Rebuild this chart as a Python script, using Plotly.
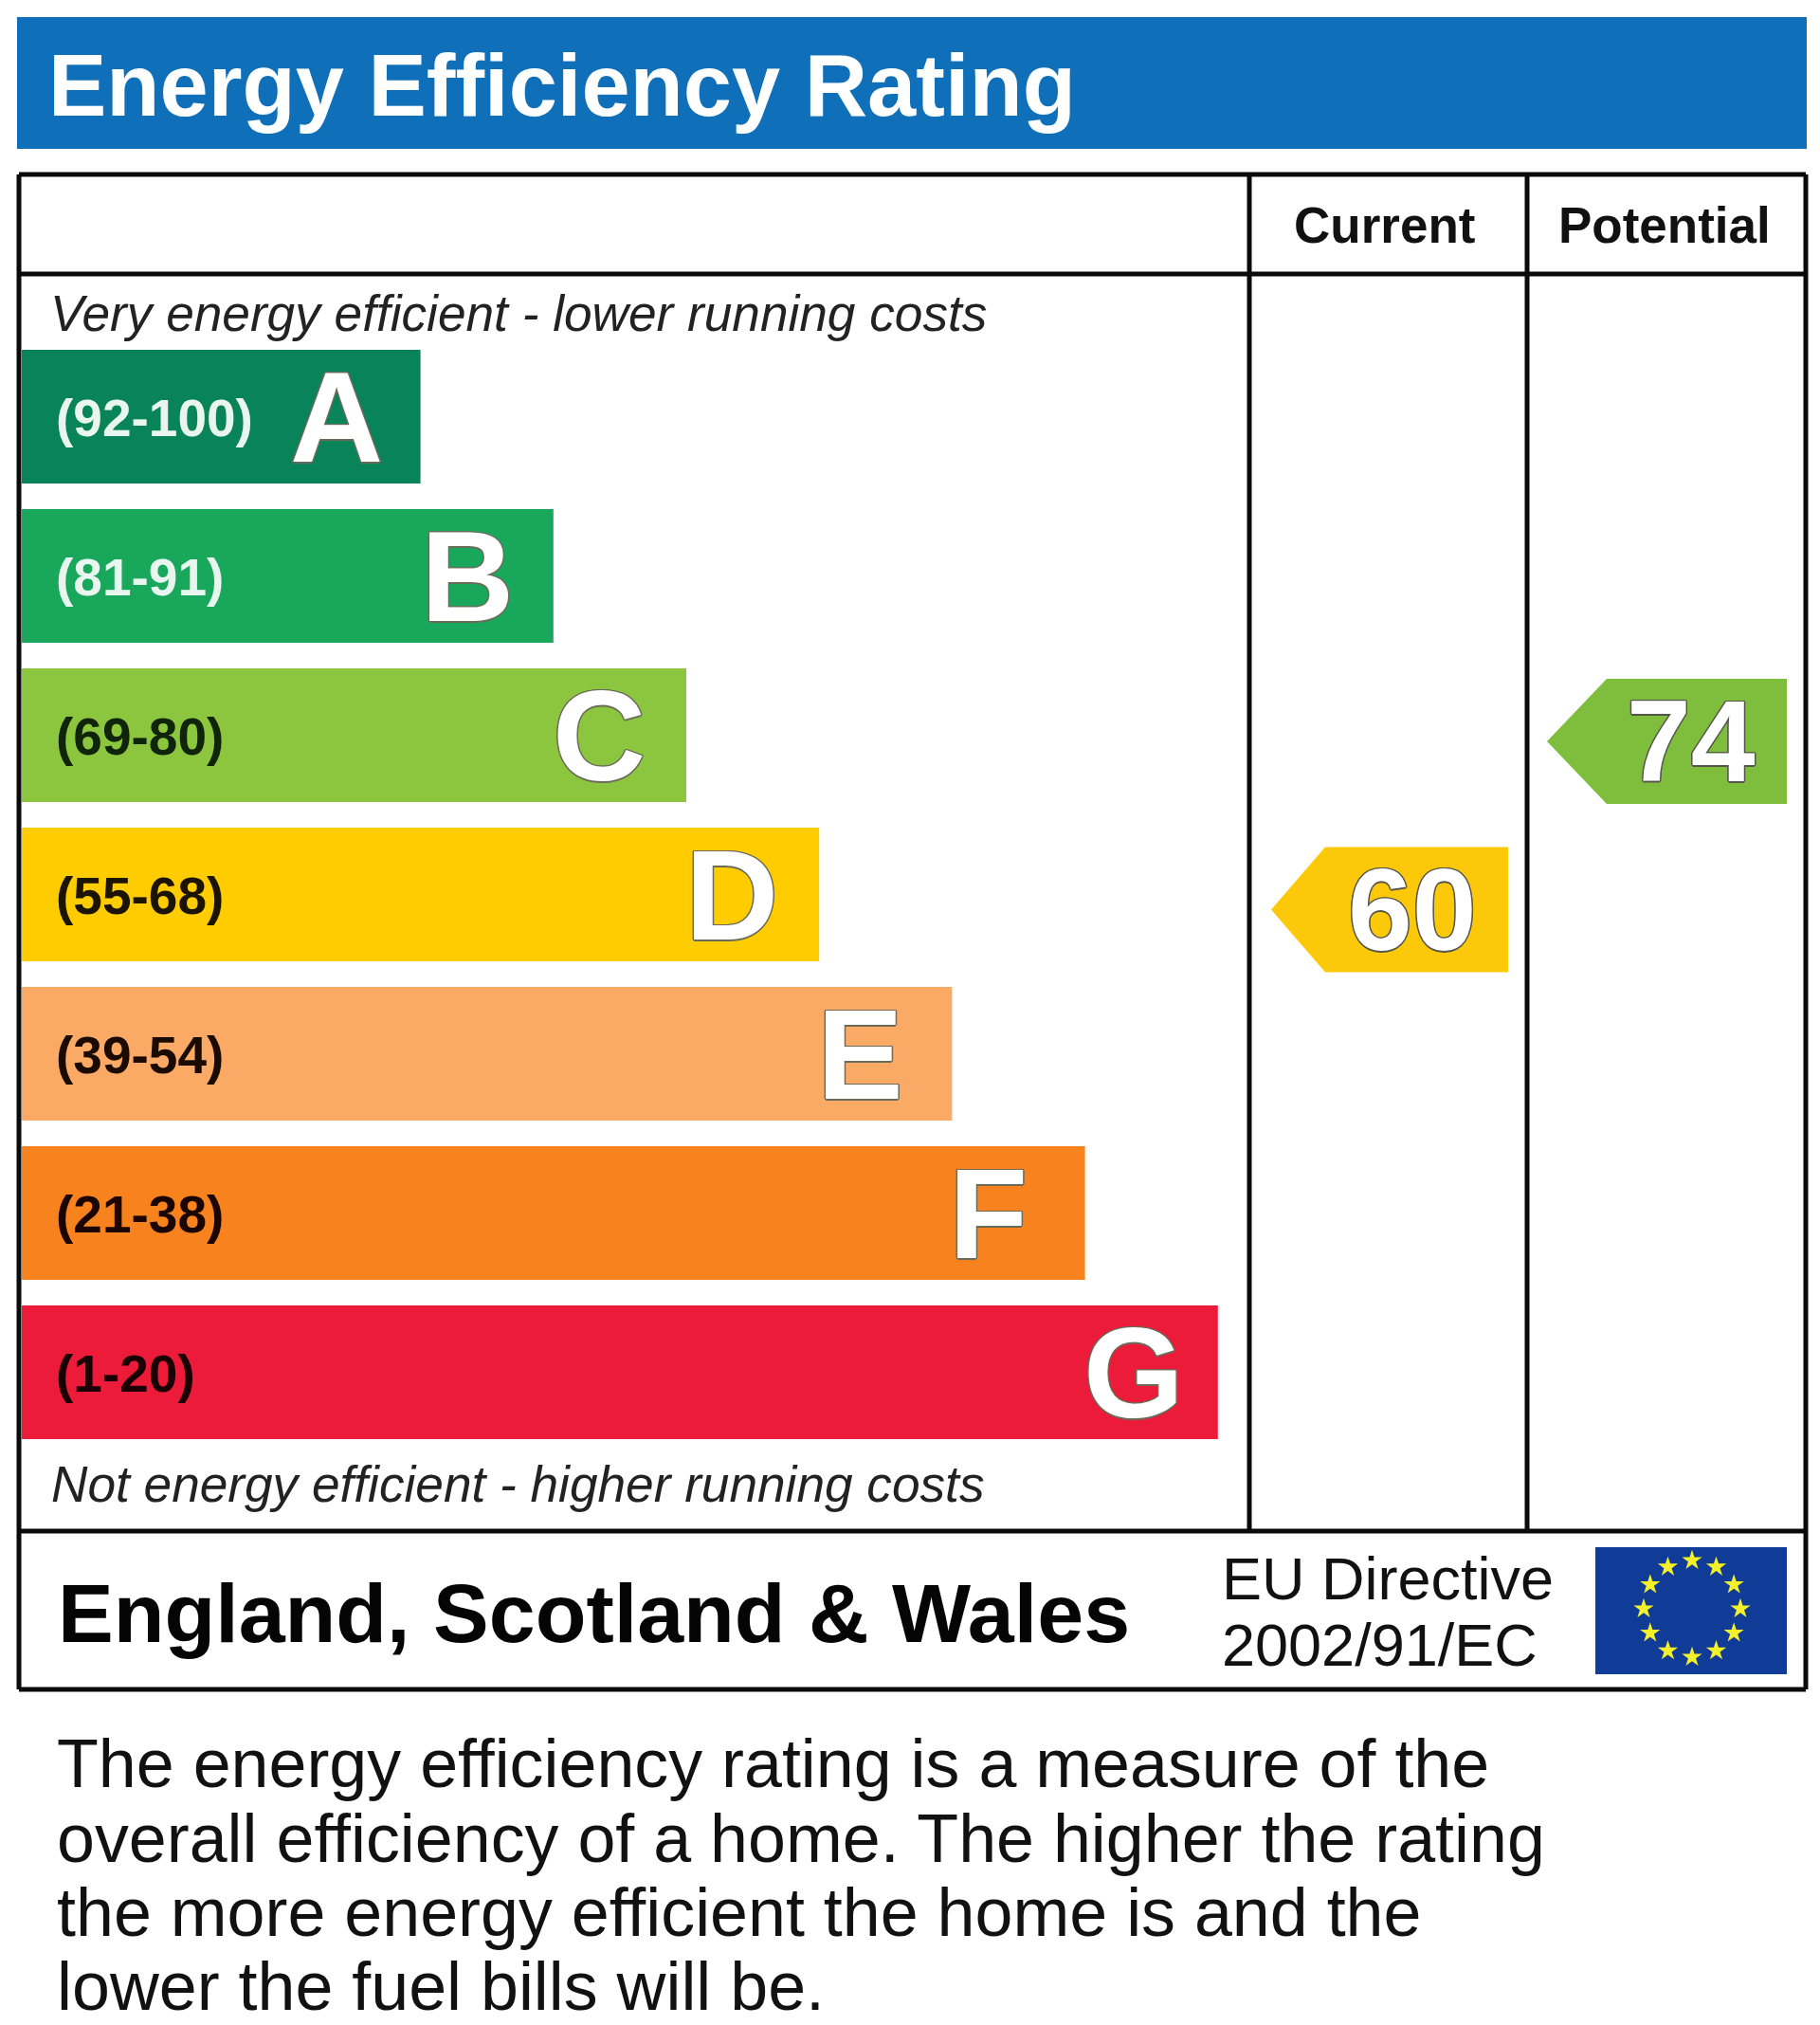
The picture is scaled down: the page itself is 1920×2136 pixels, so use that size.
import math
import plotly.graph_objects as go

FIG_W = 1920
FIG_H = 2136

# rating bands
bands = ['A', 'B', 'C', 'D', 'E', 'F', 'G']
band_ranges = ['(92-100)', '(81-91)', '(69-80)', '(55-68)', '(39-54)', '(21-38)', '(1-20)']
band_lengths = [3, 4, 5, 6, 7, 8, 9]
band_colors = ['#08835a', '#19a85b', '#8cc63f', '#ffcc00', '#fbaa65', '#f7821e', '#ed1b3a']
range_colors = ['#e8f6ef', '#e8f6ef', '#10240a', '#1a1400', '#1a0a00', '#1a0500', '#1a0005']
letter_shifts = [-89, -91, -92, -92, -97, -102, -89]

# scores
score_names = ['Current', 'Potential']
score_values = [60, 74]
score_colors = ['#fcc80a', '#7fbd3c']

FONT = 'Liberation Sans'
OUTLINE = '1.5px 0 0 {c}, -1.5px 0 0 {c}, 0 1.5px 0 {c}, 0 -1.5px 0 {c}, 1px 1px 0 {c}, -1px -1px 0 {c}, 1px -1px 0 {c}, -1px 1px 0 {c}'


def px(x):
    return x / FIG_W


def py(y):
    return 1 - y / FIG_H


def label(text, x, y, size, color='#111111', bold=False, italic=False, anchor='left'):
    return dict(text=text, x=px(x), y=py(y), xref='paper', yref='paper', xanchor=anchor, yanchor='middle',
                showarrow=False,
                font=dict(family=FONT, size=size, color=color, weight='bold' if bold else 'normal',
                          style='italic' if italic else 'normal'))


def box(x0, y0, x1, y1, fill=None, line=None, width=0):
    return dict(type='rect', xref='paper', yref='paper', x0=px(x0), x1=px(x1), y0=py(y0), y1=py(y1),
                fillcolor=fill, line=dict(color=line, width=width), layer='below')


def rule(x0, y0, x1, y1):
    return dict(type='line', xref='paper', yref='paper', x0=px(x0), x1=px(x1), y0=py(y0), y1=py(y1),
                line=dict(color='#0a0a0a', width=5), layer='above')


# horizontal bars: one length unit is 140px, starting just inside the frame
unit_x = 140.2
left_x = 23
unit_y = 168
first_y = 439.5

fig = go.Figure()
fig.add_trace(go.Bar(
    y=bands, x=band_lengths, orientation='h',
    marker=dict(color=band_colors, line=dict(width=0)),
    hoverinfo='skip', showlegend=False
))

# score arrows, y position comes from the score itself
px_per_point = 12.68
score_top = 60 + 959.5 / px_per_point
score_bottom = 60 - (FIG_H - 959.5) / px_per_point
half_h = 66 / px_per_point
arrow_x = {'Current': (1341, 1398, 1591), 'Potential': (1632, 1695, 1885)}
text_x = {'Current': 1490, 'Potential': 1784}

for name, val, col in zip(score_names, score_values, score_colors):
    tip, shoulder, right = arrow_x[name]
    fig.add_trace(go.Scatter(
        x=[tip, shoulder, right, right, shoulder, tip],
        y=[val, val + half_h, val + half_h, val - half_h, val - half_h, val],
        xaxis='x2', yaxis='y2', mode='lines', fill='toself', fillcolor=col,
        line=dict(width=0, color=col), hoverinfo='skip', showlegend=False
    ))

# EU flag stars
star_hours = list(range(12))
star_x = [1785 + 51 * math.sin(h * math.pi / 6) for h in star_hours]
star_y = [1697 - 51 * math.cos(h * math.pi / 6) for h in star_hours]
fig.add_trace(go.Scatter(
    x=star_x, y=star_y, xaxis='x2', yaxis='y3', mode='markers',
    marker=dict(symbol='star', size=16, color='#f4f02a', line=dict(width=0)),
    hoverinfo='skip', showlegend=False
))

annotations = [
    label('Energy Efficiency Rating', 49, 90, 92, color='white', bold=True),
    label('Current', 1460, 237, 53, bold=True, anchor='center'),
    label('Potential', 1756, 237, 53, bold=True, anchor='center'),
    label('Very energy efficient - lower running costs', 51, 330, 53.2, color='#222222', italic=True),
    label('Not energy efficient - higher running costs', 52, 1565, 53.2, color='#222222', italic=True),
    label('England, Scotland &amp; Wales', 59, 1701, 88, color='#050505', bold=True),
    label('EU Directive', 1287, 1665, 63),
    label('2002/91/EC', 1287, 1735, 63),
    label('The energy efficiency rating is a measure of the', 58, 1860, 71.8),
    label('overall efficiency of a home. The higher the rating', 58, 1939, 71.8),
    label('the more energy efficient the home is and the', 58, 2017, 71.8),
    label('lower the fuel bills will be.', 58, 2095, 71.8),
]

for band, rng, length, rng_col, shift in zip(bands, band_ranges, band_lengths, range_colors, letter_shifts):
    annotations.append(dict(
        text=rng, x=0, y=band, xref='x', yref='y', xanchor='left', yanchor='middle', xshift=34, yshift=-1,
        showarrow=False, font=dict(family=FONT, size=55, color=rng_col, weight='bold')
    ))
    annotations.append(dict(
        text=band, x=length, y=band, xref='x', yref='y', xanchor='center', yanchor='middle', xshift=shift,
        showarrow=False,
        font=dict(family=FONT, size=136, color='white', weight='bold', shadow=OUTLINE.format(c='#6b6b5a'))
    ))

for name, val in zip(score_names, score_values):
    annotations.append(dict(
        text=str(val), x=text_x[name], y=val, xref='x2', yref='y2', xanchor='center', yanchor='middle',
        showarrow=False,
        font=dict(family=FONT, size=122, color='white', weight='bold', shadow=OUTLINE.format(c='#55554a'))
    ))

shapes = [
    box(18, 18, 1906, 157, fill='#0f6fb8'),
    box(1683, 1632, 1885, 1766, fill='#103c98'),
    rule(20, 184, 1905, 184),
    rule(20, 289, 1905, 289),
    rule(20, 1615, 1905, 1615),
    rule(20, 1782, 1905, 1782),
    rule(20, 184, 20, 1782),
    rule(1905, 184, 1905, 1782),
    rule(1318, 184, 1318, 1615),
    rule(1611, 184, 1611, 1615),
]

layout = go.Layout(
    width=FIG_W, height=FIG_H,
    margin=dict(l=0, r=0, t=0, b=0),
    paper_bgcolor='white', plot_bgcolor='rgba(0,0,0,0)',
    bargap=1 - 141 / unit_y,
    xaxis=dict(visible=False, range=[-left_x / unit_x, (FIG_W - left_x) / unit_x]),
    yaxis=dict(visible=False, type='category', categoryorder='array', categoryarray=bands,
               range=[(FIG_H - first_y) / unit_y, -first_y / unit_y]),
    xaxis2=dict(visible=False, range=[0, FIG_W], overlaying='x'),
    yaxis2=dict(visible=False, range=[score_bottom, score_top], overlaying='y'),
    yaxis3=dict(visible=False, range=[FIG_H, 0], overlaying='y'),
    annotations=annotations,
    shapes=shapes,
    hovermode=False,
)
fig.update_layout(layout)

fig.write_html('out.html', config={'displayModeBar': False}, post_script="document.body.style.margin='0';")
